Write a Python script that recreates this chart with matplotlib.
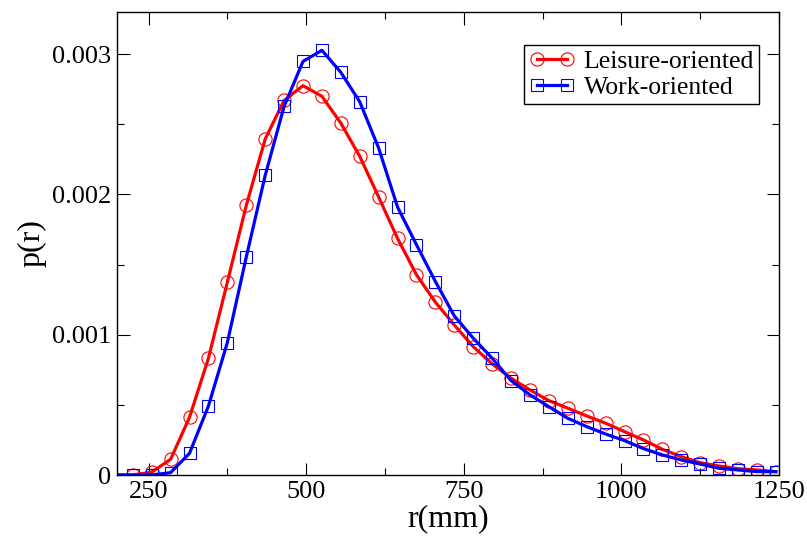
import numpy as np
import matplotlib.pyplot as plt

# ───────── DATA ─────────
r_mm = [225, 255, 285, 315, 345, 375, 405, 435, 465, 495, 525, 555,
        585, 615, 645, 675, 705, 735, 765, 795, 825, 855, 885, 915,
        945, 975, 1005, 1035, 1065, 1095, 1125, 1155, 1185, 1215, 1245]

p_leisure = [0.0, 0.00002, 0.000112, 0.000411, 0.000832, 0.001374, 0.001921,
             0.002394, 0.002670, 0.002775, 0.002699, 0.002508, 0.002271,
             0.001981, 0.001686, 0.001427, 0.001232, 0.001069, 0.000915,
             0.000792, 0.000690, 0.000606, 0.000530, 0.000476, 0.000421,
             0.000369, 0.000309, 0.000250, 0.000183, 0.000131, 0.000088,
             0.000064, 0.000045, 0.000036, 0.000024]

p_work = [0.0, 0.0, 0.000017, 0.000155, 0.000492, 0.000944, 0.001553,
          0.002135, 0.002627, 0.002948, 0.003027, 0.002870, 0.002660,
          0.002330, 0.001909, 0.001641, 0.001379, 0.001134, 0.000975,
          0.000832, 0.000673, 0.000571, 0.000487, 0.000404, 0.000345,
          0.000292, 0.000245, 0.000188, 0.000143, 0.000107, 0.000078,
          0.000048, 0.000036, 0.000024, 0.000024]

# lines start at the left edge of the frame
line_start_r = [200]
line_start_p = [0.0]

x_ticks = [250, 500, 750, 1000, 1250]
y_ticks = [0, 0.001, 0.002, 0.003]
y_tick_labels = ['0', '0.001', '0.002', '0.003']
# ──────────────────────────────────────────────────

plt.rcParams['font.family'] = ['Liberation Serif', 'Tinos', 'STIXGeneral', 'DejaVu Serif']

fig = plt.figure(figsize=(8.07, 5.36), dpi=100)
ax = fig.add_axes([0.145, 0.1138, 0.8203, 0.8638])

series = [
    (p_leisure, 'red', 'o', 9.5, 'Leisure-oriented'),
    (p_work, 'blue', 's', 8.5, 'Work-oriented'),
]
for p, col, mk, ms, lab in series:
    ax.plot(line_start_r + r_mm, line_start_p + p, color=col, lw=2.3,
            solid_joinstyle='round')
    ax.plot(r_mm, p, linestyle='none', marker=mk, ms=ms, mfc='none',
            mec=col, mew=0.8)
    # proxy for the legend
    ax.plot([], [], color=col, lw=2.3, marker=mk, ms=ms, mfc='none',
            mec=col, mew=0.8, label=lab)

ax.set_xlim(200, 1250)
ax.set_ylim(0, 0.0033)
ax.set_xticks(x_ticks)
ax.set_xticks(np.arange(375, 1250, 250), minor=True)
ax.set_yticks(y_ticks)
ax.set_yticklabels(y_tick_labels)
ax.set_yticks([0.0005, 0.0015, 0.0025], minor=True)

ax.tick_params(which='both', direction='in', top=True, right=True,
               labelsize=19, width=0.8)
ax.tick_params(which='major', length=9, pad=4)
ax.tick_params(which='minor', length=5)
for s in ax.spines.values():
    s.set_linewidth(1.0)

ax.set_xlabel('r(mm)', fontsize=23, labelpad=1)
ax.set_ylabel('p(r)', fontsize=23, labelpad=4)

leg = ax.legend(loc='upper right', bbox_to_anchor=(0.9698, 0.9287),
                borderaxespad=0, numpoints=2, fontsize=18.5, fancybox=False,
                edgecolor='black', framealpha=1, handlelength=1.75,
                handletextpad=0.35, borderpad=0.2, labelspacing=0.1)
leg.get_frame().set_linewidth(1.0)

fig.savefig('out.png', dpi=100)
